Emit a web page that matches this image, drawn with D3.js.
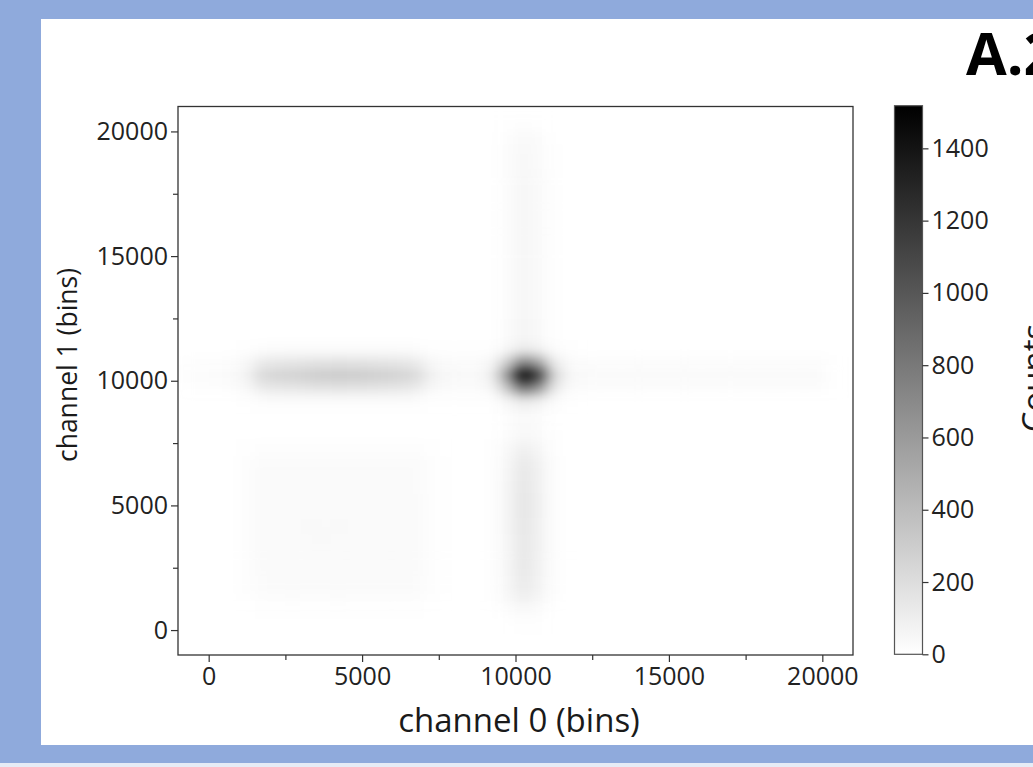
<!DOCTYPE html>
<html>
<head>
<meta charset="utf-8">
<script src="https://cdn.jsdelivr.net/npm/d3@7"></script>
<style>
html, body { margin: 0; padding: 0; background: #8faadc; }
svg { display: block; font-family: "Open Sans", sans-serif; }
</style>
</head>
<body>
<svg width="1033" height="767"></svg>
<script>
// histogram bins: 500 x 500 channel bins, starting at -1000 on both axes
var binSize = 500;
var xStart = -1000, xEnd = 21000;
var yStart = -1000, yEnd = 21000;

var xTicks = [0, 5000, 10000, 15000, 20000];
var xMinorTicks = [2500, 7500, 12500, 17500];
var yTicks = [0, 5000, 10000, 15000, 20000];
var yMinorTicks = [2500, 7500, 12500, 17500];
var countTicks = [0, 200, 400, 600, 800, 1000, 1200, 1400];
var countMax = 1518;

// counts[j][i] : row j = channel 1 bin (from y = -1000 upwards), column i = channel 0 bin
var counts = [
  [0,0,0,0, 0,0,0,0,0,0,0,0,0,0,0,0,0, 0,0,0, 0,0,0,0,0, 0,0,0,0,0,0,0,0,0,0,0,0,0,0,0,0,0,0,0], // -1000
  [0,0,0,0, 0,0,0,0,0,0,0,0,0,0,0,0,0, 0,0,0, 0,0,0,0,0, 0,0,0,0,0,0,0,0,0,0,0,0,0,0,0,0,0,0,0], // -500
  [0,0,0,0, 0,0,0,0,0,0,0,0,0,0,0,0,0, 0,0,0, 0,2,5,3,0, 0,0,0,0,0,0,0,0,0,0,0,0,0,0,0,0,0,0,0], // 0
  [0,0,0,0, 0,4,5,5,5,5,5,5,5,5,5,4,0, 0,0,0, 1,12,30,18,2, 0,0,0,0,0,0,0,0,0,0,0,0,0,0,0,0,0,0,0], // 500
  [0,0,0,0, 6,12,14,15,14,14,15,14,14,13,14,12,6, 0,0,0, 3,34,85,50,6, 0,0,0,0,0,0,0,0,0,0,0,0,0,0,0,0,0,0,0], // 1000
  [0,0,0,0, 12,24,28,30,28,31,30,28,30,28,27,24,11, 0,0,0, 5,48,125,72,9, 0,0,0,0,0,0,0,0,0,0,0,0,0,0,0,0,0,0,0], // 1500
  [0,0,0,0, 12,26,30,28,31,30,28,31,28,30,28,25,12, 0,0,0, 5,51,135,77,9, 0,0,0,0,0,0,0,0,0,0,0,0,0,0,0,0,0,0,0], // 2000
  [0,0,0,0, 12,28,28,31,30,28,32,30,31,28,30,27,12, 0,0,0, 5,53,140,80,9, 0,0,0,0,0,0,0,0,0,0,0,0,0,0,0,0,0,0,0], // 2500
  [0,0,0,0, 13,30,31,30,32,31,30,32,30,31,28,28,12, 0,0,0, 5,55,145,83,10, 0,0,0,0,0,0,0,0,0,0,0,0,0,0,0,0,0,0,0], // 3000
  [0,0,0,0, 12,28,30,32,30,33,31,30,31,30,30,27,12, 0,0,0, 5,55,145,83,10, 0,0,0,0,0,0,0,0,0,0,0,0,0,0,0,0,0,0,0], // 3500
  [0,0,0,0, 13,30,32,31,33,31,33,31,32,30,31,28,13, 0,0,0, 6,57,150,86,10, 0,0,0,0,0,0,0,0,0,0,0,0,0,0,0,0,0,0,0], // 4000
  [0,0,0,0, 12,28,31,30,32,30,31,32,30,31,28,28,12, 0,0,0, 6,59,155,89,10, 0,0,0,0,0,0,0,0,0,0,0,0,0,0,0,0,0,0,0], // 4500
  [0,0,0,0, 12,30,30,31,30,32,30,31,30,30,30,27,12, 0,0,0, 6,59,155,89,10, 0,0,0,0,0,0,0,0,0,0,0,0,0,0,0,0,0,0,0], // 5000
  [0,0,0,0, 12,28,30,28,31,30,31,30,31,28,28,25,11, 0,0,0, 6,57,150,86,10, 0,0,0,0,0,0,0,0,0,0,0,0,0,0,0,0,0,0,0], // 5500
  [0,0,0,0, 11,27,28,30,28,30,28,30,28,28,27,25,11, 0,0,0, 5,55,145,83,10, 0,0,0,0,0,0,0,0,0,0,0,0,0,0,0,0,0,0,0], // 6000
  [0,0,0,0, 10,24,26,25,26,25,26,25,26,25,24,22,10, 0,0,0, 5,49,130,75,9, 0,0,0,0,0,0,0,0,0,0,0,0,0,0,0,0,0,0,0], // 6500
  [0,0,0,0, 5,11,12,11,12,11,12,11,12,11,11,10,5, 0,0,0, 4,36,95,55,6, 0,0,0,0,0,0,0,0,0,0,0,0,0,0,0,0,0,0,0], // 7000
  [0,0,0,0, 0,2,2,2,2,2,2,2,2,2,2,2,0, 0,0,0, 2,19,50,29,3, 0,0,0,0,0,0,0,0,0,0,0,0,0,0,0,0,0,0,0], // 7500
  [0,0,0,0, 0,0,0,0,0,0,0,0,0,0,0,0,0, 0,0,0, 1,14,38,22,2, 0,0,0,0,0,0,0,0,0,0,0,0,0,0,0,0,0,0,0], // 8000
  [0,0,0,0, 0,0,0,0,0,0,0,0,0,0,0,0,0, 0,0,0, 1,15,42,24,3, 0,0,0,0,0,0,0,0,0,0,0,0,0,0,0,0,0,0,0], // 8500
  [0,1,1,2, 6,18,21,22,24,25,26,25,24,22,21,18,7, 4,3,3, 8,62,150,104,22, 3,2,2,2,2,2,2,2,2,2,2,2,2,2,2,2,2,1,0], // 9000
  [6,9,12,15, 42,125,140,148,158,168,172,168,160,152,142,122,50, 24,21,21, 62,360,860,640,140, 30,18,18,18,18,18,18,18,18,18,18,18,18,18,18,18,15,4,0], // 9500
  [11,17,22,28, 80,225,255,268,285,302,310,302,290,278,260,220,92, 44,38,38, 110,640,1520,1140,250, 55,32,32,32,32,32,32,32,32,32,32,32,32,32,32,32,27,8,0], // 10000
  [6,9,12,15, 42,125,140,148,158,168,172,168,160,152,142,122,50, 24,21,21, 56,305,730,540,120, 28,18,18,18,18,18,18,18,18,18,18,18,18,18,18,18,15,4,0], // 10500
  [0,1,1,2, 6,18,21,22,24,25,26,25,24,22,21,18,7, 4,3,3, 8,56,135,90,18, 3,2,2,2,2,2,2,2,2,2,2,2,2,2,2,2,2,1,0], // 11000
  [0,0,0,0, 0,0,0,0,0,0,0,0,0,0,0,0,0, 0,0,0, 2,22,60,34,4, 0,0,0,0,0,0,0,0,0,0,0,0,0,0,0,0,0,0,0], // 11500
  [0,0,0,0, 0,0,0,0,0,0,0,0,0,0,0,0,0, 0,0,0, 2,21,58,33,4, 0,0,0,0,0,0,0,0,0,0,0,0,0,0,0,0,0,0,0], // 12000
  [0,0,0,0, 0,0,0,0,0,0,0,0,0,0,0,0,0, 0,0,0, 2,19,54,30,3, 0,0,0,0,0,0,0,0,0,0,0,0,0,0,0,0,0,0,0], // 12500
  [0,0,0,0, 0,0,0,0,0,0,0,0,0,0,0,0,0, 0,0,0, 2,20,56,32,3, 0,0,0,0,0,0,0,0,0,0,0,0,0,0,0,0,0,0,0], // 13000
  [0,0,0,0, 0,0,0,0,0,0,0,0,0,0,0,0,0, 0,0,0, 2,19,54,30,3, 0,0,0,0,0,0,0,0,0,0,0,0,0,0,0,0,0,0,0], // 13500
  [0,0,0,0, 0,0,0,0,0,0,0,0,0,0,0,0,0, 0,0,0, 2,18,51,29,3, 0,0,0,0,0,0,0,0,0,0,0,0,0,0,0,0,0,0,0], // 14000
  [0,0,0,0, 0,0,0,0,0,0,0,0,0,0,0,0,0, 0,0,0, 2,19,55,31,3, 0,0,0,0,0,0,0,0,0,0,0,0,0,0,0,0,0,0,0], // 14500
  [0,0,0,0, 0,0,0,0,0,0,0,0,0,0,0,0,0, 0,0,0, 2,19,53,30,3, 0,0,0,0,0,0,0,0,0,0,0,0,0,0,0,0,0,0,0], // 15000
  [0,0,0,0, 0,0,0,0,0,0,0,0,0,0,0,0,0, 0,0,0, 2,18,51,29,3, 0,0,0,0,0,0,0,0,0,0,0,0,0,0,0,0,0,0,0], // 15500
  [0,0,0,0, 0,0,0,0,0,0,0,0,0,0,0,0,0, 0,0,0, 2,19,54,30,3, 0,0,0,0,0,0,0,0,0,0,0,0,0,0,0,0,0,0,0], // 16000
  [0,0,0,0, 0,0,0,0,0,0,0,0,0,0,0,0,0, 0,0,0, 2,18,52,29,3, 0,0,0,0,0,0,0,0,0,0,0,0,0,0,0,0,0,0,0], // 16500
  [0,0,0,0, 0,0,0,0,0,0,0,0,0,0,0,0,0, 0,0,0, 2,19,54,30,3, 0,0,0,0,0,0,0,0,0,0,0,0,0,0,0,0,0,0,0], // 17000
  [0,0,0,0, 0,0,0,0,0,0,0,0,0,0,0,0,0, 0,0,0, 2,18,51,29,3, 0,0,0,0,0,0,0,0,0,0,0,0,0,0,0,0,0,0,0], // 17500
  [0,0,0,0, 0,0,0,0,0,0,0,0,0,0,0,0,0, 0,0,0, 2,18,49,28,3, 0,0,0,0,0,0,0,0,0,0,0,0,0,0,0,0,0,0,0], // 18000
  [0,0,0,0, 0,0,0,0,0,0,0,0,0,0,0,0,0, 0,0,0, 2,17,47,26,3, 0,0,0,0,0,0,0,0,0,0,0,0,0,0,0,0,0,0,0], // 18500
  [0,0,0,0, 0,0,0,0,0,0,0,0,0,0,0,0,0, 0,0,0, 2,16,44,25,3, 0,0,0,0,0,0,0,0,0,0,0,0,0,0,0,0,0,0,0], // 19000
  [0,0,0,0, 0,0,0,0,0,0,0,0,0,0,0,0,0, 0,0,0, 1,14,38,22,2, 0,0,0,0,0,0,0,0,0,0,0,0,0,0,0,0,0,0,0], // 19500
  [0,0,0,0, 0,0,0,0,0,0,0,0,0,0,0,0,0, 0,0,0, 0,4,12,7,1, 0,0,0,0,0,0,0,0,0,0,0,0,0,0,0,0,0,0,0], // 20000
  [0,0,0,0, 0,0,0,0,0,0,0,0,0,0,0,0,0, 0,0,0, 0,0,0,0,0, 0,0,0,0,0,0,0,0,0,0,0,0,0,0,0,0,0,0,0]  // 20500
];

var svg = d3.select('svg');
var W = +svg.attr('width'), H = +svg.attr('height');

// slide background
svg.append('rect').attr('width', W).attr('height', H).attr('fill', '#8faadc');
svg.append('rect').attr('y', 763).attr('width', W).attr('height', H - 763).attr('fill', '#e6ecf6');
svg.append('rect').attr('x', 41).attr('y', 19).attr('width', W - 41).attr('height', 726).attr('fill', '#fff');

var plot = { left: 178, top: 106.5, right: 853, bottom: 655 };

var x = d3.scaleLinear().domain([xStart, xEnd]).range([plot.left, plot.right]);
var y = d3.scaleLinear().domain([yStart, yEnd]).range([plot.bottom, plot.top]);
var color = d3.scaleLinear().domain([0, countMax]).range(['#ffffff', '#000000']).clamp(true);

var defs = svg.append('defs');
defs.append('clipPath').attr('id', 'plot-clip')
  .append('rect')
  .attr('x', plot.left).attr('y', plot.top)
  .attr('width', plot.right - plot.left).attr('height', plot.bottom - plot.top);

var smooth = defs.append('filter').attr('id', 'smooth')
  .attr('x', '-5%').attr('y', '-5%').attr('width', '110%').attr('height', '110%')
  .attr('color-interpolation-filters', 'sRGB');
smooth.append('feGaussianBlur').attr('stdDeviation', '7 5.5');

var cells = [];
counts.forEach(function (row, j) {
  row.forEach(function (c, i) {
    cells.push({ x0: xStart + i * binSize, y0: yStart + j * binSize, c: c });
  });
});

svg.append('rect')
  .attr('x', plot.left).attr('y', plot.top)
  .attr('width', plot.right - plot.left).attr('height', plot.bottom - plot.top)
  .attr('fill', '#fff');

svg.append('g')
  .attr('clip-path', 'url(#plot-clip)')
  .append('g')
  .attr('filter', 'url(#smooth)')
  .selectAll('rect')
  .data(cells)
  .join('rect')
  .attr('x', function (d) { return x(d.x0); })
  .attr('y', function (d) { return y(d.y0 + binSize); })
  .attr('width', x(binSize) - x(0) + 0.6)
  .attr('height', y(0) - y(binSize) + 0.6)
  .attr('fill', function (d) { return color(d.c); });

// axes
var fmt = d3.format('d');

function styleAxis(g) {
  g.select('.domain').remove();
  g.selectAll('.tick line').attr('stroke', '#333').attr('stroke-width', 1.2);
  g.selectAll('.tick text').attr('fill', '#222').attr('font-size', 25).attr('font-family', '"Open Sans", sans-serif');
}

svg.append('g')
  .attr('transform', 'translate(0,' + plot.bottom + ')')
  .call(d3.axisBottom(x).tickValues(xTicks).tickFormat(fmt).tickSize(7).tickPadding(5))
  .call(styleAxis);
svg.append('g')
  .attr('transform', 'translate(0,' + plot.bottom + ')')
  .call(d3.axisBottom(x).tickValues(xMinorTicks).tickFormat('').tickSize(5))
  .call(styleAxis);

svg.append('g')
  .attr('transform', 'translate(' + plot.left + ',0)')
  .call(d3.axisLeft(y).tickValues(yTicks).tickFormat(fmt).tickSize(7).tickPadding(3))
  .call(styleAxis);
svg.append('g')
  .attr('transform', 'translate(' + plot.left + ',0)')
  .call(d3.axisLeft(y).tickValues(yMinorTicks).tickFormat('').tickSize(5))
  .call(styleAxis);

svg.append('rect')
  .attr('x', plot.left).attr('y', plot.top)
  .attr('width', plot.right - plot.left).attr('height', plot.bottom - plot.top)
  .attr('fill', 'none').attr('stroke', '#333').attr('stroke-width', 1.3);

// colorbar
var cbar = { left: 894.5, right: 922.5, top: 105.7, bottom: 654.3 };
var cy = d3.scaleLinear().domain([0, countMax]).range([cbar.bottom, cbar.top]);

var grad = defs.append('linearGradient').attr('id', 'cbar-grad')
  .attr('x1', 0).attr('y1', 1).attr('x2', 0).attr('y2', 0);
grad.selectAll('stop')
  .data([0, countMax])
  .join('stop')
  .attr('offset', function (d) { return d / countMax; })
  .attr('stop-color', function (d) { return color(d); });

svg.append('rect')
  .attr('x', cbar.left).attr('y', cbar.top)
  .attr('width', cbar.right - cbar.left).attr('height', cbar.bottom - cbar.top)
  .attr('fill', 'url(#cbar-grad)')
  .attr('stroke', '#555').attr('stroke-width', 1.2);

svg.append('g')
  .attr('transform', 'translate(' + cbar.right + ',0)')
  .call(d3.axisRight(cy).tickValues(countTicks).tickFormat(fmt).tickSize(6).tickPadding(3))
  .call(styleAxis);

// labels
svg.append('text')
  .attr('x', 519).attr('y', 731.5)
  .attr('text-anchor', 'middle')
  .attr('font-size', 33).attr('fill', '#1a1a1a')
  .text('channel 0 (bins)');

svg.append('text')
  .attr('transform', 'translate(77,365) rotate(-90)')
  .attr('text-anchor', 'middle')
  .attr('font-size', 26.5).attr('fill', '#1a1a1a')
  .text('channel 1 (bins)');

svg.append('text')
  .attr('transform', 'translate(1046,378) rotate(-90)')
  .attr('text-anchor', 'middle')
  .attr('font-size', 33).attr('fill', '#1a1a1a')
  .text('Counts');

svg.append('text')
  .attr('x', 966).attr('y', 75)
  .attr('font-size', 59).attr('font-weight', 'bold').attr('fill', '#000')
  .text('A.2');
</script>
</body>
</html>
